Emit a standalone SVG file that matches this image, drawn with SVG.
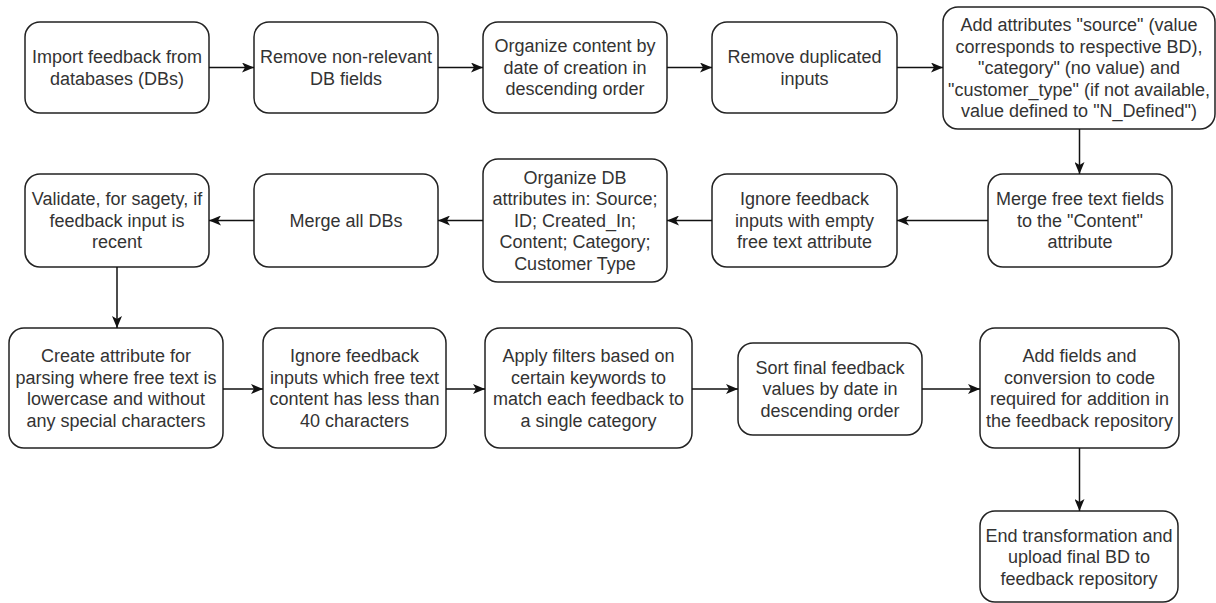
<svg xmlns="http://www.w3.org/2000/svg" width="1216" height="603" viewBox="0 0 1216 603">
  <style>
    .box { fill: #ffffff; stroke: #222222; stroke-width: 1.5; }
    .lbl { font-family: "Liberation Sans", Arial, sans-serif; font-size: 18px; fill: #333333; text-anchor: middle; }
    .edge { fill: none; stroke: #111111; stroke-width: 1.5; }
  </style>
  <defs>
    <marker id="arrow" viewBox="0 0 12 10" refX="12" refY="5" markerWidth="12" markerHeight="10" markerUnits="userSpaceOnUse" orient="auto">
      <path d="M0,0 L12,5 L0,10 L3,5 z" fill="#111111"/>
    </marker>
  </defs>
  <rect width="1216" height="603" fill="#ffffff"/>

  <!-- row 1 -->
  <g id="n1">
    <rect class="box" x="25" y="22" width="184" height="91" rx="15"/>
    <text class="lbl" x="117" y="63">Import feedback from</text>
    <text class="lbl" x="117" y="84.6">databases (DBs)</text>
  </g>
  <g id="n2">
    <rect class="box" x="254" y="22" width="184" height="91" rx="15"/>
    <text class="lbl" x="346" y="63">Remove non-relevant</text>
    <text class="lbl" x="346" y="84.6">DB fields</text>
  </g>
  <g id="n3">
    <rect class="box" x="483" y="22" width="184" height="91" rx="15"/>
    <text class="lbl" x="575" y="52.2">Organize content by</text>
    <text class="lbl" x="575" y="73.8">date of creation in</text>
    <text class="lbl" x="575" y="95.4">descending order</text>
  </g>
  <g id="n4">
    <rect class="box" x="712" y="22" width="185" height="91" rx="15"/>
    <text class="lbl" x="804.5" y="63">Remove duplicated</text>
    <text class="lbl" x="804.5" y="84.6">inputs</text>
  </g>
  <g id="n5">
    <rect class="box" x="943" y="7" width="272" height="122" rx="15"/>
    <text class="lbl" x="1079" y="31">Add attributes "source" (value</text>
    <text class="lbl" x="1079" y="52.6">corresponds to respective BD),</text>
    <text class="lbl" x="1079" y="74.2">"category" (no value) and</text>
    <text class="lbl" x="1079" y="95.8">"customer_type" (if not available,</text>
    <text class="lbl" x="1079" y="117.4">value defined to "N_Defined")</text>
  </g>

  <!-- row 2 -->
  <g id="n6">
    <rect class="box" x="988" y="174" width="184" height="93" rx="15"/>
    <text class="lbl" x="1080" y="205.1">Merge free text fields</text>
    <text class="lbl" x="1080" y="226.7">to the "Content"</text>
    <text class="lbl" x="1080" y="248.3">attribute</text>
  </g>
  <g id="n7">
    <rect class="box" x="712" y="174" width="185" height="93" rx="15"/>
    <text class="lbl" x="804.5" y="205.1">Ignore feedback</text>
    <text class="lbl" x="804.5" y="226.7">inputs with empty</text>
    <text class="lbl" x="804.5" y="248.3">free text attribute</text>
  </g>
  <g id="n8">
    <rect class="box" x="483" y="159" width="184" height="123" rx="15"/>
    <text class="lbl" x="575" y="183.6">Organize DB</text>
    <text class="lbl" x="575" y="205.2">attributes in: Source;</text>
    <text class="lbl" x="575" y="226.8">ID; Created_In;</text>
    <text class="lbl" x="575" y="248.4">Content; Category;</text>
    <text class="lbl" x="575" y="270">Customer Type</text>
  </g>
  <g id="n9">
    <rect class="box" x="254" y="174" width="184" height="93" rx="15"/>
    <text class="lbl" x="346" y="226.8">Merge all DBs</text>
  </g>
  <g id="n10">
    <rect class="box" x="25" y="174" width="184" height="93" rx="15"/>
    <text class="lbl" x="117" y="205.1">Validate, for sagety, if</text>
    <text class="lbl" x="117" y="226.7">feedback input is</text>
    <text class="lbl" x="117" y="248.3">recent</text>
  </g>

  <!-- row 3 -->
  <g id="n11">
    <rect class="box" x="9" y="328" width="214" height="120" rx="15"/>
    <text class="lbl" x="116" y="361.9">Create attribute for</text>
    <text class="lbl" x="116" y="383.5">parsing where free text is</text>
    <text class="lbl" x="116" y="405.1">lowercase and without</text>
    <text class="lbl" x="116" y="426.7">any special characters</text>
  </g>
  <g id="n12">
    <rect class="box" x="263" y="328" width="183" height="120" rx="15"/>
    <text class="lbl" x="354.5" y="361.9">Ignore feedback</text>
    <text class="lbl" x="354.5" y="383.5">inputs which free text</text>
    <text class="lbl" x="354.5" y="405.1">content has less than</text>
    <text class="lbl" x="354.5" y="426.7">40 characters</text>
  </g>
  <g id="n13">
    <rect class="box" x="485" y="328" width="207" height="120" rx="15"/>
    <text class="lbl" x="588.5" y="361.9">Apply filters based on</text>
    <text class="lbl" x="588.5" y="383.5">certain keywords to</text>
    <text class="lbl" x="588.5" y="405.1">match each feedback to</text>
    <text class="lbl" x="588.5" y="426.7">a single category</text>
  </g>
  <g id="n14">
    <rect class="box" x="738" y="343" width="184" height="92" rx="15"/>
    <text class="lbl" x="830" y="373.6">Sort final feedback</text>
    <text class="lbl" x="830" y="395.2">values by date in</text>
    <text class="lbl" x="830" y="416.8">descending order</text>
  </g>
  <g id="n15">
    <rect class="box" x="980" y="328" width="199" height="120" rx="15"/>
    <text class="lbl" x="1079.5" y="361.9">Add fields and</text>
    <text class="lbl" x="1079.5" y="383.5">conversion to code</text>
    <text class="lbl" x="1079.5" y="405.1">required for addition in</text>
    <text class="lbl" x="1079.5" y="426.7">the feedback repository</text>
  </g>
  <g id="n16">
    <rect class="box" x="980" y="511" width="198" height="91" rx="15"/>
    <text class="lbl" x="1079" y="541.6">End transformation and</text>
    <text class="lbl" x="1079" y="563.2">upload final BD to</text>
    <text class="lbl" x="1079" y="584.8">feedback repository</text>
  </g>

  <!-- connectors -->
  <g id="edges">
    <line class="edge" x1="209" y1="67.5" x2="254" y2="67.5" marker-end="url(#arrow)"/>
    <line class="edge" x1="438" y1="67.5" x2="483" y2="67.5" marker-end="url(#arrow)"/>
    <line class="edge" x1="667" y1="67.5" x2="712" y2="67.5" marker-end="url(#arrow)"/>
    <line class="edge" x1="897" y1="67.5" x2="943" y2="67.5" marker-end="url(#arrow)"/>
    <line class="edge" x1="1079.5" y1="129" x2="1079.5" y2="174" marker-end="url(#arrow)"/>
    <line class="edge" x1="988" y1="220.5" x2="897" y2="220.5" marker-end="url(#arrow)"/>
    <line class="edge" x1="712" y1="220.5" x2="667" y2="220.5" marker-end="url(#arrow)"/>
    <line class="edge" x1="483" y1="220.5" x2="438" y2="220.5" marker-end="url(#arrow)"/>
    <line class="edge" x1="254" y1="220.5" x2="209" y2="220.5" marker-end="url(#arrow)"/>
    <line class="edge" x1="117" y1="267" x2="117" y2="328" marker-end="url(#arrow)"/>
    <line class="edge" x1="223" y1="389" x2="263" y2="389" marker-end="url(#arrow)"/>
    <line class="edge" x1="446" y1="389" x2="485" y2="389" marker-end="url(#arrow)"/>
    <line class="edge" x1="692" y1="389" x2="738" y2="389" marker-end="url(#arrow)"/>
    <line class="edge" x1="922" y1="389" x2="980" y2="389" marker-end="url(#arrow)"/>
    <line class="edge" x1="1079.5" y1="448" x2="1079.5" y2="511" marker-end="url(#arrow)"/>
  </g>
</svg>
